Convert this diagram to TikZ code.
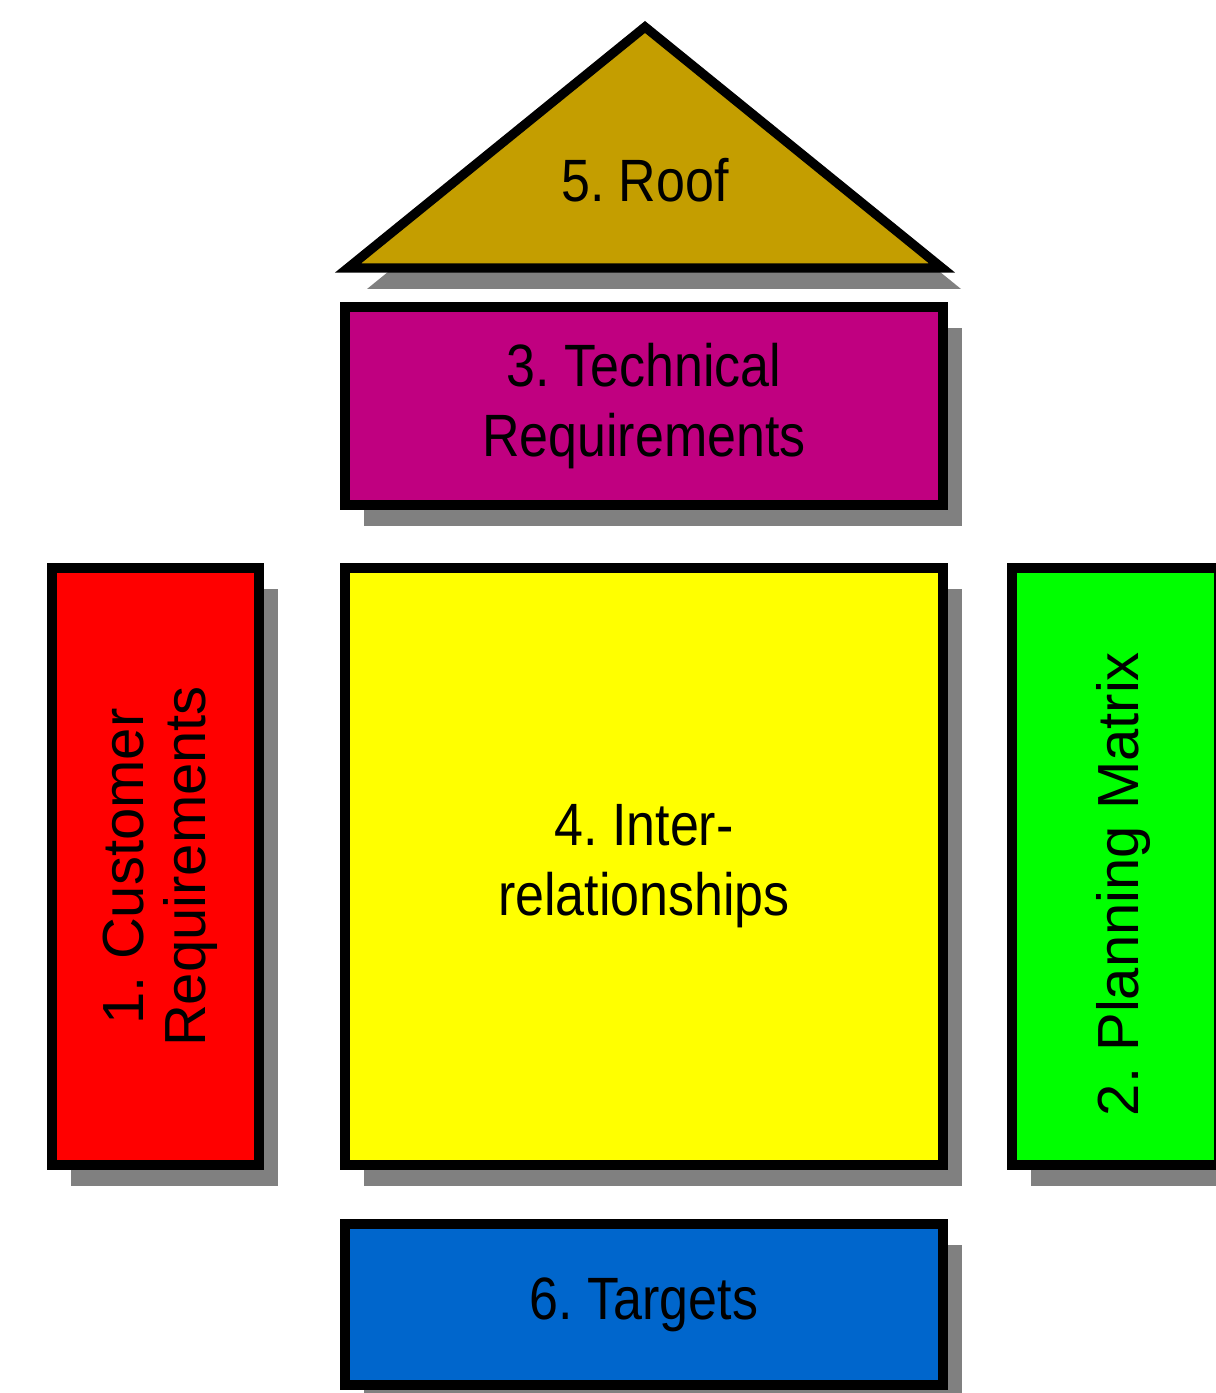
\documentclass[tikz,border=0pt]{standalone}
\usepackage{fontspec}
\setmainfont{Liberation Sans}[FakeStretch=0.87]
\newfontfamily\sidefont{Liberation Sans}
\usetikzlibrary{shadows}
\frenchspacing

\definecolor{roofgold}{RGB}{196,158,0}
\definecolor{techpink}{RGB}{192,0,128}
\definecolor{custred}{RGB}{255,0,0}
\definecolor{relyellow}{RGB}{255,255,0}
\definecolor{plangreen}{RGB}{0,255,0}
\definecolor{targetblue}{RGB}{0,102,204}
\definecolor{shadowgray}{RGB}{128,128,128}

\begin{document}
\begin{tikzpicture}[
  line join=miter,
  every node/.style={align=center},
  boxshadow/.style={drop shadow={shadow xshift=0.38cm, shadow yshift=-0.42cm, fill=shadowgray, opacity=1}},
  lab/.style={font=\fontsize{34}{40}\selectfont}
]

% ---------- node styles ----------
\tikzset{
  block/.style={draw=black, line width=5.3pt, inner sep=0pt, boxshadow, lab},
  sidetext/.style={rotate=90, font=\sidefont\fontsize{33}{35}\selectfont}
}

\useasboundingbox (0,0) rectangle (24.3,27.86);

% ---------- roof ----------
\filldraw[fill=roofgold, line width=5.3pt, boxshadow] (6.96,22.5) -- (12.9,27.32) -- (18.84,22.5) -- cycle;
\node[lab] (roof) at (12.9,24.25) {5. Roof};

% ---------- house body ----------
\node[block, fill=techpink, minimum width=11.96cm, minimum height=3.96cm] (tech) at (12.88,19.74) {3. Technical\\Requirements};
\node[block, fill=custred, minimum width=4.14cm, minimum height=11.94cm] (cust) at (3.11,10.53) {};
\node[block, fill=relyellow, minimum width=11.96cm, minimum height=11.94cm] (rel) at (12.88,10.53) {4. Inter-\\relationships};
\node[block, fill=plangreen, minimum width=4.14cm, minimum height=11.94cm] (plan) at (22.31,10.53) {};
\node[block, fill=targetblue, minimum width=11.96cm, minimum height=3.22cm] (targets) at (12.88,1.77) {6. Targets};

% ---------- side labels ----------
\node[sidetext] (custlab) at ([xshift=0.1cm]cust.center) {1. Customer\\Requirements};
\node[sidetext] (planlab) at ([xshift=0.15cm, yshift=-0.35cm]plan.center) {2. Planning Matrix};

\end{tikzpicture}
\end{document}
